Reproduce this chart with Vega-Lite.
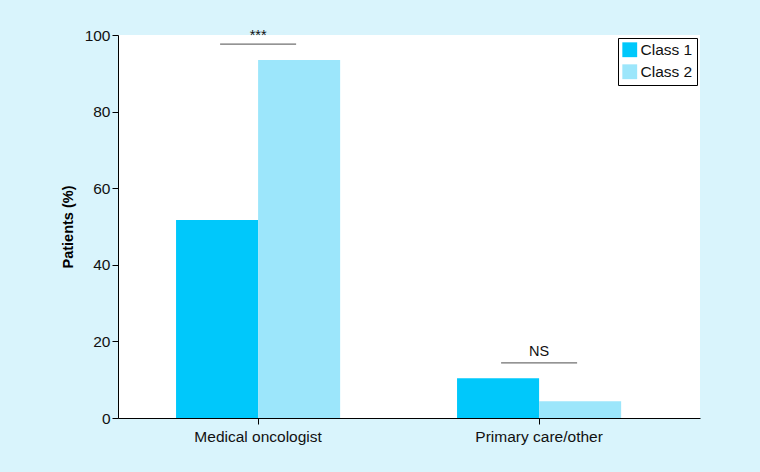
{
  "$schema": "https://vega.github.io/schema/vega-lite/v6.json",
  "autosize": {"type": "none"},
  "width": 582,
  "height": 383,
  "padding": {"left": 118, "top": 35, "right": 60, "bottom": 54},
  "background": "#d9f4fc",
  "config": {
    "view": {"fill": "white", "stroke": null},
    "font": "Liberation Sans",
    "axis": {"labelFont": "Liberation Sans", "titleFont": "Liberation Sans", "labelColor": "#111", "domainColor": "#000", "tickColor": "#000", "grid": false}
  },
  "datasets": {
    "bars": [
      {"setting": "Medical oncologist", "cls": "Class 1", "pct": 51.7},
      {"setting": "Medical oncologist", "cls": "Class 2", "pct": 93.5},
      {"setting": "Primary care/other", "cls": "Class 1", "pct": 10.4},
      {"setting": "Primary care/other", "cls": "Class 2", "pct": 4.4}
    ],
    "sig": [
      {"setting": "Medical oncologist", "line": 97.6, "label": "***", "ty": 98.0},
      {"setting": "Primary care/other", "line": 14.4, "label": "NS", "ty": 15.3}
    ]
  },
  "encoding": {
    "x": {
      "field": "setting", "type": "nominal",
      "scale": {"paddingInner": 0.416, "paddingOuter": 0.2436, "align": 0.424},
      "axis": {"title": null, "labelAngle": 0, "labelFontSize": 15.5, "labelPadding": 5, "tickSize": 6, "domainWidth": 1}
    }
  },
  "layer": [
    {
      "data": {"name": "bars"},
      "mark": {"type": "bar"},
      "encoding": {
        "xOffset": {"field": "cls", "type": "nominal", "scale": {"paddingInner": 0, "paddingOuter": 0}},
        "y": {
          "field": "pct", "type": "quantitative",
          "scale": {"domain": [0, 100], "nice": false},
          "axis": {"title": "Patients (%)", "titleFontSize": 14.5, "titleFontWeight": "bold", "titlePadding": 9, "labelFontSize": 15.5, "labelOverlap": false, "values": [0, 20, 40, 60, 80, 100], "tickSize": 6, "labelPadding": 2}
        },
        "color": {
          "field": "cls", "type": "nominal",
          "scale": {"domain": ["Class 1", "Class 2"], "range": ["#00c8fb", "#9ce6fb"]},
          "legend": {
            "title": null, "orient": "top-right", "offset": 3,
            "symbolType": "square", "symbolSize": 220, "symbolStrokeWidth": 0,
            "labelFontSize": 15.5, "labelColor": "#111", "labelOffset": 3,
            "fillColor": "white", "strokeColor": "#000", "padding": 4, "rowPadding": 5
          }
        }
      }
    },
    {
      "data": {"name": "sig"},
      "mark": {"type": "tick", "size": 76, "thickness": 1.2, "color": "#333", "orient": "horizontal"},
      "encoding": {
        "y": {"field": "line", "type": "quantitative"}
      }
    },
    {
      "data": {"name": "sig"},
      "mark": {"type": "text", "baseline": "bottom", "fontSize": 14.5, "color": "#111"},
      "encoding": {
        "y": {"field": "ty", "type": "quantitative"},
        "text": {"field": "label"}
      }
    }
  ]
}
